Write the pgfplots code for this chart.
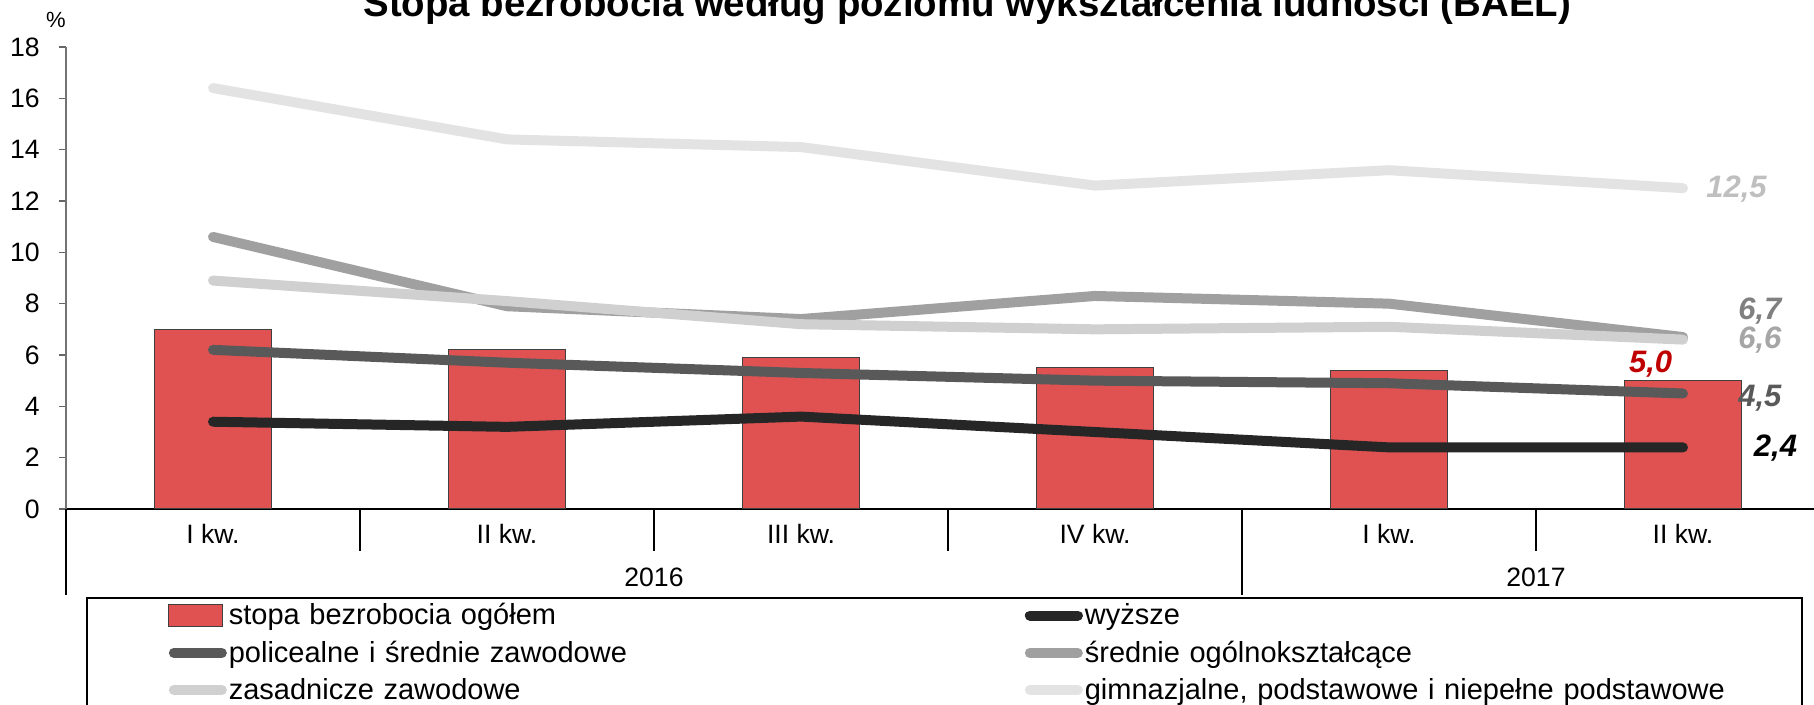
\documentclass[border=0pt]{standalone}
\usepackage{pgfplots}
\pgfplotsset{compat=1.18}
\usepackage{fontspec}
\setmainfont{Liberation Sans}
\definecolor{barred}{HTML}{E05252}
\definecolor{cwyz}{HTML}{262626}
\definecolor{cpol}{HTML}{595959}
\definecolor{csro}{HTML}{A0A0A0}
\definecolor{czas}{HTML}{D0D0D0}
\definecolor{cgim}{HTML}{E3E3E3}
\begin{document}
\begin{tikzpicture}
\begin{axis}[
  at={(0,0)}, anchor=south west,
  width=882pt, height=231pt, scale only axis,
  xmin=-0.5, xmax=5.5, ymin=0, ymax=18,
  clip=false,
  axis x line*=bottom, axis y line*=left,
  x axis line style={draw=black, line width=0.8pt},
  y axis line style={draw=black!55, line width=0.8pt},
  ytick={0,2,...,18},
  ytick style={draw=black!60, line width=0.6pt},
  tick align=outside, major tick length=3.5pt,
  xtick={0,...,5},
  xticklabels={I kw.,II kw.,III kw.,IV kw.,I kw.,II kw.},
  xtick style={draw=none},
  xticklabel style={anchor=base, yshift=-13.6pt},
  yticklabel style={inner xsep=0pt, xshift=-9.5pt},
  tick label style={font=\fontsize{13.3}{15}\selectfont},
  /pgf/number format/assume math mode=true,
  legend columns=2,
  legend cell align=left,
  legend style={draw=none, fill=none, at={(0.0578,-0.199)}, anchor=north west,
    inner sep=0pt, row sep=4.5pt,
    font=\fontsize{14.5}{17}\selectfont,
    nodes={text width=397pt, inner xsep=1pt, inner ysep=1pt}},
]
\addplot[ybar, bar width=58.5pt, fill=barred, draw=black!75, line width=0.5pt,
  legend image code/.code={\draw[fill=barred, draw=black!75, line width=0.5pt] (0pt,-5.5pt) rectangle (27pt,5.5pt);}]
  coordinates {(0,7.0) (1,6.2) (2,5.9) (3,5.5) (4,5.4) (5,5.0)};
\addlegendentry{stopa bezrobocia ogółem}
\addplot[color=cwyz, line width=5pt, line cap=round, line join=round, mark=none,
  legend image code/.code={\draw[cwyz, line width=5pt, line cap=round] (2.5pt,0pt) -- (26.5pt,0pt);}]
  coordinates {(0,3.4) (1,3.2) (2,3.6) (3,3.0) (4,2.4) (5,2.4)};
\addlegendentry{wyższe}
\addplot[color=cpol, line width=5pt, line cap=round, line join=round, mark=none,
  legend image code/.code={\draw[cpol, line width=5pt, line cap=round] (2.5pt,0pt) -- (26.5pt,0pt);}]
  coordinates {(0,6.2) (1,5.7) (2,5.3) (3,5.0) (4,4.9) (5,4.5)};
\addlegendentry{policealne i średnie zawodowe}
\addplot[color=csro, line width=5pt, line cap=round, line join=round, mark=none,
  legend image code/.code={\draw[csro, line width=5pt, line cap=round] (2.5pt,0pt) -- (26.5pt,0pt);}]
  coordinates {(0,10.6) (1,7.9) (2,7.4) (3,8.3) (4,8.0) (5,6.7)};
\addlegendentry{średnie ogólnokształcące}
\addplot[color=czas, line width=5pt, line cap=round, line join=round, mark=none,
  legend image code/.code={\draw[czas, line width=5pt, line cap=round] (2.5pt,0pt) -- (26.5pt,0pt);}]
  coordinates {(0,8.9) (1,8.1) (2,7.2) (3,7.0) (4,7.1) (5,6.6)};
\addlegendentry{zasadnicze zawodowe}
\addplot[color=cgim, line width=5pt, line cap=round, line join=round, mark=none,
  legend image code/.code={\draw[cgim, line width=5pt, line cap=round] (2.5pt,0pt) -- (26.5pt,0pt);}]
  coordinates {(0,16.4) (1,14.4) (2,14.1) (3,12.6) (4,13.2) (5,12.5)};
\addlegendentry{gimnazjalne, podstawowe i niepełne podstawowe}
% separators
\draw[black, line width=0.6pt] (axis cs:-0.5,0) -- ([yshift=-43pt]axis cs:-0.5,0);
\draw[black, line width=0.6pt] (axis cs:3.5,0) -- ([yshift=-43pt]axis cs:3.5,0);
\draw[black, line width=0.6pt] (axis cs:0.5,0) -- ([yshift=-21pt]axis cs:0.5,0);
\draw[black, line width=0.6pt] (axis cs:1.5,0) -- ([yshift=-21pt]axis cs:1.5,0);
\draw[black, line width=0.6pt] (axis cs:2.5,0) -- ([yshift=-21pt]axis cs:2.5,0);
\draw[black, line width=0.6pt] (axis cs:4.5,0) -- ([yshift=-21pt]axis cs:4.5,0);
\node[anchor=base, font=\fontsize{13.3}{15}\selectfont] at ([yshift=-38.5pt]axis cs:1.5,0) {2016};
\node[anchor=base, font=\fontsize{13.3}{15}\selectfont] at ([yshift=-38.5pt]axis cs:4.5,0) {2017};
% value labels
\node[anchor=west, inner sep=0pt, font=\fontsize{15.5}{18}\selectfont\bfseries\itshape, text=black!25] at (axis cs:5.078,12.47) {12,5};
\node[anchor=west, inner sep=0pt, font=\fontsize{15.5}{18}\selectfont\bfseries\itshape, text=black!50] at (axis cs:5.187,7.70) {6,7};
\node[anchor=west, inner sep=0pt, font=\fontsize{15.5}{18}\selectfont\bfseries\itshape, text=black!35] at (axis cs:5.187,6.60) {6,6};
\node[anchor=center, inner sep=0pt, font=\fontsize{15.5}{18}\selectfont\bfseries\itshape, text={rgb,255:red,192;green,0;blue,0}] at (axis cs:4.89,5.65) {5,0};
\node[anchor=west, inner sep=0pt, font=\fontsize{15.5}{18}\selectfont\bfseries\itshape, text=cpol] at (axis cs:5.187,4.33) {4,5};
\node[anchor=west, inner sep=0pt, font=\fontsize{15.5}{18}\selectfont\bfseries\itshape, text=black] at (axis cs:5.24,2.38) {2,4};
\end{axis}
\node[anchor=base, font=\fontsize{11}{13}\selectfont] at (-5pt,240.5pt) {\%};
\node[anchor=base west, inner sep=0pt, font=\fontsize{19.2}{23}\selectfont\bfseries] at (148.5pt,246pt) {Stopa bezrobocia według poziomu wykształcenia ludności (BAEL)};
\draw[black, line width=0.8pt] (10.5pt,-110pt) rectangle (868pt,-44.5pt);
\pgfresetboundingbox
\path[use as bounding box] (-33pt,-98pt) rectangle (874pt,254.5pt);
\end{tikzpicture}
\end{document}
